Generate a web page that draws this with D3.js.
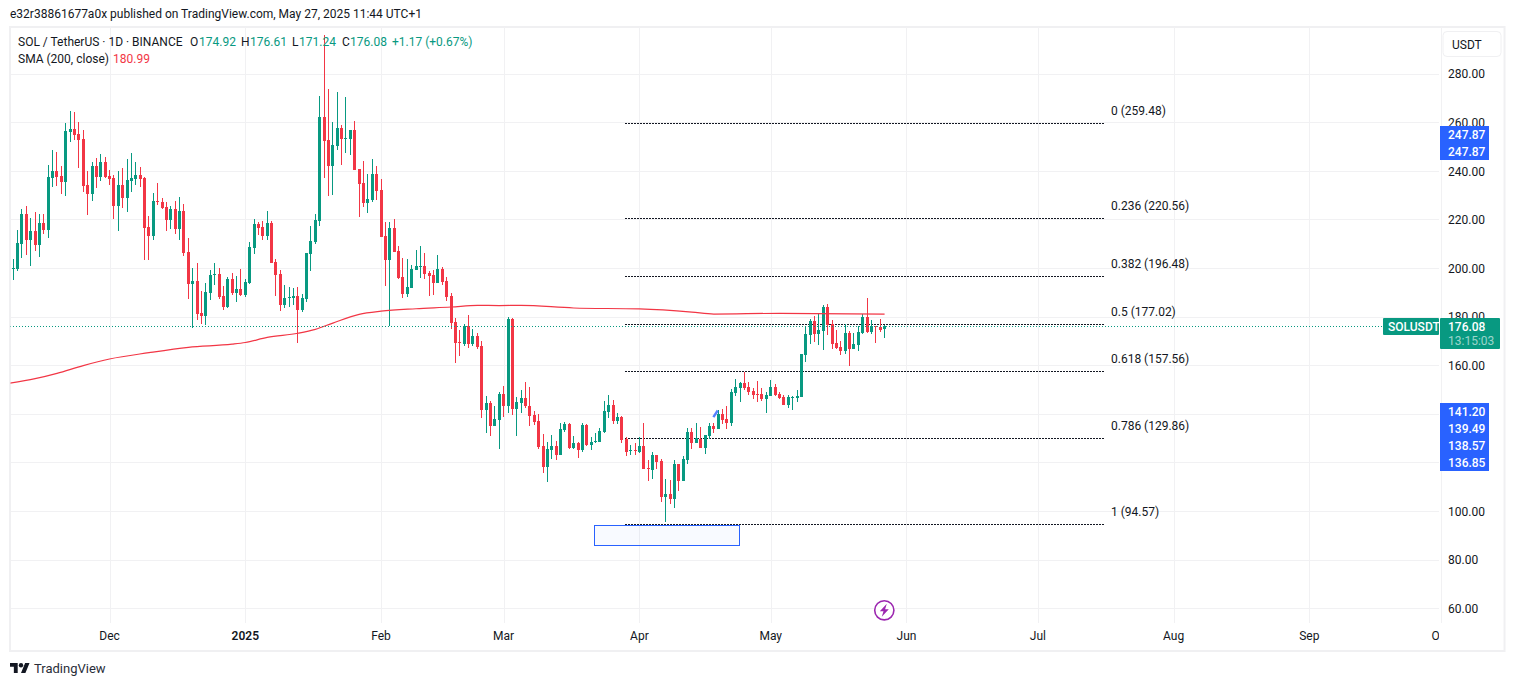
<!DOCTYPE html>
<html>
<head>
<meta charset="utf-8">
<script src="https://cdn.jsdelivr.net/npm/d3@7"></script>
<style>
  html, body { margin: 0; padding: 0; background: #fff; }
  svg { display: block; }
  text { font-family: Roboto, sans-serif; font-size: 12px; fill: #131722; }
  .grid line { stroke: #f1f1f3; }
  .grid path { display: none; }
  .axis path { display: none; }
</style>
</head>
<body>
<div id="chart"></div>
<script>
// first candle is 9 Nov 2024, one per day up to 27 May 2025
const firstDay = "2024-11-09";

const opens = [
  199.6,199.6,210.0,222.2,211.6,215.2,209.4,218.5,215.6,237.0,
  239.9,237.8,235.3,255.9,257.2,255.1,253.0,234.1,230.4,241.9,
  237.4,243.6,237.8,237.0,225.5,234.1,228.8,235.8,236.6,238.2,
  237.0,216.8,213.1,227.5,227.1,225.1,219.7,224.2,216.0,223.4,
  206.5,193.4,194.6,181.4,180.2,189.7,197.1,197.5,188.4,183.9,
  195.4,189.7,191.3,188.8,193.8,208.2,218.1,216.8,213.1,218.5,
  202.4,197.5,184.7,187.6,187.6,188.4,182.7,187.2,205.7,210.7,
  219.3,262.1,252.6,241.9,250.2,257.6,253.0,253.0,256.8,240.7,
  234.9,226.7,227.9,238.6,232.1,213.1,203.2,216.4,206.9,196.3,
  189.2,191.7,199.1,200.4,200.8,197.9,197.1,193.8,199.6,194.6,
  188.4,177.7,169.5,168.7,176.1,168.7,172.0,167.9,141.5,144.4,
  134.9,137.4,148.1,143.2,179.0,142.0,144.4,146.5,143.2,139.5,
  137.0,126.7,118.0,125.1,126.7,123.0,133.3,135.8,125.9,127.9,
  125.1,135.4,127.1,128.3,128.3,132.5,140.7,143.6,137.0,138.6,
  129.6,124.7,125.1,124.2,126.7,117.6,116.8,123.0,120.5,105.7,
  107.0,104.9,119.3,112.3,120.9,132.5,127.9,129.6,125.9,130.8,
  135.0,133.7,139.9,137.8,136.2,148.5,150.6,152.6,151.0,149.3,
  148.1,148.1,146.0,147.3,151.0,148.1,146.9,143.6,146.4,146.4,
  146.9,164.2,172.4,178.2,172.8,174.0,183.9,176.9,169.1,167.4,
  165.8,173.2,166.6,168.3,173.2,179.8,173.6,176.1,175.7,174.92
];
const highs = [
  203.7,215.6,224.2,225.5,220.5,223.0,222.2,222.2,242.3,248.5,
  247.7,241.9,259.6,264.6,264.1,260.0,256.8,239.9,243.6,245.2,
  246.9,245.6,240.3,238.2,239.9,241.1,244.8,247.3,243.6,241.5,
  237.4,221.4,230.8,234.9,228.8,227.1,225.5,227.5,229.2,226.3,
  212.3,200.0,202.0,190.5,193.8,199.1,202.0,200.0,192.6,196.3,
  197.9,196.7,199.6,195.4,210.7,220.1,218.9,219.3,223.4,219.3,
  203.7,199.1,193.0,192.1,191.7,192.1,189.2,206.1,217.2,222.2,
  270.7,295.8,273.6,260.0,272.4,258.8,270.3,256.8,260.4,240.7,
  244.0,238.6,244.8,241.9,236.6,218.9,218.9,220.1,209.0,204.1,
  203.7,201.2,207.4,209.0,206.1,198.7,199.1,205.3,200.4,196.3,
  189.7,179.4,174.4,176.9,180.6,174.9,173.2,169.9,147.3,145.2,
  143.2,148.9,151.4,179.8,179.4,146.9,149.8,153.0,151.0,141.1,
  139.9,131.7,128.3,131.2,128.8,136.2,136.6,136.2,130.8,128.3,
  136.2,135.8,130.4,132.1,134.1,145.2,147.7,145.6,140.3,139.0,
  130.4,127.1,127.9,130.4,136.2,120.9,124.2,123.0,121.4,113.1,
  112.7,120.9,119.3,122.6,134.1,134.1,136.2,134.5,131.2,136.2,
  136.2,141.5,141.9,143.2,150.2,154.3,153.1,157.2,153.1,150.6,
  153.4,150.6,148.9,153.9,152.2,148.9,147.7,147.7,147.3,149.8,
  164.6,176.1,179.0,180.2,181.4,184.7,185.1,178.6,174.5,169.9,
  176.9,174.0,173.2,176.1,181.0,187.6,178.6,176.1,179.0,176.61
];
const lows = [
  195.0,198.9,204.1,205.2,200.8,206.9,204.5,213.9,212.3,233.3,
  233.7,230.4,229.6,251.8,252.6,241.1,231.2,221.8,227.5,232.9,
  235.8,237.0,234.1,220.1,215.2,224.6,223.0,231.2,234.1,233.3,
  203.2,203.2,211.5,225.9,224.2,215.2,216.0,213.9,211.5,204.9,
  187.2,175.1,178.6,176.9,176.5,186.8,193.0,187.2,182.7,183.5,
  188.8,186.0,188.4,188.0,193.4,205.7,213.5,211.5,211.5,202.0,
  188.4,182.3,183.5,183.9,184.7,169.1,181.9,186.0,198.7,209.8,
  217.2,237.0,229.6,230.0,248.5,242.3,247.1,246.5,240.3,221.0,
  225.1,222.6,227.1,227.9,212.7,192.6,176.1,206.5,195.4,187.6,
  188.0,191.7,199.1,195.8,195.4,188.4,188.8,193.8,193.0,186.4,
  175.0,160.9,163.8,167.9,167.0,167.9,166.6,138.2,132.1,130.8,
  134.9,125.5,138.6,140.3,139.5,130.8,140.3,142.4,134.9,135.4,
  125.5,115.6,111.9,121.4,120.9,123.0,132.5,125.5,125.5,121.8,
  124.2,126.7,125.1,127.9,128.3,132.1,138.2,135.8,135.8,127.9,
  122.6,123.0,123.0,123.8,117.2,112.3,113.1,117.2,103.7,95.4,
  102.8,101.2,108.2,112.3,119.3,125.5,127.9,125.9,123.4,129.6,
  132.1,133.7,135.8,133.7,135.0,147.3,144.8,149.8,147.7,146.0,
  144.8,145.2,140.3,147.3,147.3,146.0,143.6,142.4,141.5,144.8,
  146.9,161.3,168.7,169.5,168.3,166.2,172.4,166.6,166.6,164.2,
  164.6,159.6,166.6,165.8,172.8,173.2,172.8,169.1,173.6,171.24
];
const closes = [
  200.0,210.1,222.0,211.6,215.2,209.4,218.5,215.6,237.4,239.9,
  237.4,235.3,256.3,257.2,254.7,252.6,233.7,230.4,241.9,237.4,
  243.6,237.4,236.6,225.5,234.1,228.8,236.2,237.0,238.2,236.6,
  216.4,213.1,227.5,227.1,224.6,219.7,224.2,216.0,223.4,206.1,
  193.4,194.6,181.0,180.2,190.1,197.1,197.5,188.0,183.9,195.4,
  189.7,191.3,188.8,194.2,208.6,218.1,216.4,213.1,218.5,202.0,
  197.1,184.7,187.6,188.0,188.4,182.7,187.6,206.1,211.1,219.7,
  262.1,252.2,241.9,250.6,257.6,253.0,253.5,256.8,240.3,234.5,
  226.7,228.4,238.6,231.6,212.7,203.2,216.4,206.5,195.8,189.2,
  192.1,199.6,200.8,200.8,197.5,196.7,193.8,199.6,194.2,188.0,
  177.3,169.1,169.1,176.1,168.7,172.0,167.5,141.5,144.4,134.9,
  137.8,148.1,143.2,179.0,142.0,144.8,146.5,143.2,139.0,136.6,
  126.3,118.0,125.5,126.7,123.0,133.7,135.8,125.9,127.9,125.1,
  135.4,127.1,128.3,128.8,132.9,141.1,143.6,137.0,138.6,129.2,
  124.2,125.1,124.7,126.7,117.2,117.2,123.0,120.1,105.7,107.0,
  104.9,119.3,112.3,121.4,132.5,127.9,130.0,125.9,131.2,135.0,
  133.7,139.9,137.4,136.2,148.9,151.0,152.6,150.6,148.9,147.7,
  147.7,146.0,147.7,151.0,147.7,146.4,143.6,146.9,146.9,147.3,
  164.6,172.8,178.2,172.8,174.5,183.9,176.5,168.7,167.0,165.8,
  173.2,166.6,168.7,173.6,179.8,173.6,176.1,175.7,174.5,176.08
];

// SMA readings, day number counted from the first candle
const smaDays = [-1,5,10,16,22,31,40,50,53,58,65,69,73,79,84,92,100,106,111,116,128,143,155,160,175,199];
const smaValues = [152.5,154.4,156.6,159.8,162.5,165.1,167.3,168.6,169.3,171.4,173.1,174.7,177.3,180.9,182.2,183.2,183.9,184.6,184.5,184.6,183.5,183.1,181.8,181.0,181.3,180.99];

const priceTicks = [280,260,240,220,200,180,160,140,120,100,80,60];
const monthDates = ["2024-12-01","2025-01-01","2025-02-01","2025-03-01","2025-04-01","2025-05-01","2025-06-01","2025-07-01","2025-08-01","2025-09-01","2025-10-01"];
const monthLabels = ["Dec","2025","Feb","Mar","Apr","May","Jun","Jul","Aug","Sep","Oct"];

const fibRatios = ["0","0.236","0.382","0.5","0.618","0.786","1"];
const fibPrices = [259.48,220.56,196.48,177.02,157.56,129.86,94.57];
const fibFromDay = 139.8, fibToDay = 249;

const boxDays = [133,166], boxPrices = [94.2,85.8];
const brushDays = [159.9,160.9], brushPrices = [138.6,141.3];

const lastPrice = 176.08, countdown = "13:15:03";
const topAlerts = ["247.87","247.87"];
const lowAlerts = ["141.20","139.49","138.57","136.85"];

const green = "#089981", red = "#f23645", blue = "#2962ff";
const paneRight = 1438.5, paneTop = 27, paneBottom = 622.5;

const parse = d3.utcParse("%Y-%m-%d");
const day0 = parse(firstDay);
const dayToDate = n => new Date(day0.getTime() + n * 864e5);

const svg = d3.select("#chart").append("svg")
  .attr("width", 1515)
  .attr("height", 686);

const x = d3.scaleUtc()
  .domain([day0, dayToDate(199)])
  .range([13.2, 884.6]);
const y = d3.scaleLinear()
  .domain([60, 280])
  .range([608.1, 73.5]);

const clip = svg.append("defs");
clip.append("clipPath").attr("id", "pane").append("rect")
  .attr("x", 10.5).attr("y", paneTop).attr("width", paneRight - 10.5).attr("height", paneBottom - paneTop);
clip.append("clipPath").attr("id", "timeaxis").append("rect")
  .attr("x", 10.5).attr("y", paneBottom).attr("width", paneRight - 10).attr("height", 28);

// publish line and frame
svg.append("text").attr("x", 10).attr("y", 18).text("e32r38861677a0x published on TradingView.com, May 27, 2025 11:44 UTC+1");
svg.append("rect")
  .attr("x", 10).attr("y", 27).attr("width", 1494.5).attr("height", 624)
  .attr("fill", "none").attr("stroke", "#f0f0f2").attr("stroke-width", 2);

// grid
svg.append("g").attr("class", "grid")
  .attr("transform", `translate(${paneRight}, 0)`)
  .attr("shape-rendering", "crispEdges")
  .call(d3.axisLeft(y).tickValues(priceTicks).tickSize(paneRight - 10.5).tickFormat(""));
svg.append("g").attr("class", "grid")
  .attr("transform", `translate(0, ${paneBottom})`)
  .attr("shape-rendering", "crispEdges")
  .call(d3.axisTop(x).tickValues(monthDates.map(parse)).tickSize(paneBottom - paneTop).tickFormat(""));

const pane = svg.append("g").attr("clip-path", "url(#pane)");

// fib lines
pane.append("g").selectAll("line")
  .data(fibPrices)
  .enter()
  .append("line")
    .attr("x1", Math.round(x(dayToDate(fibFromDay))))
    .attr("x2", Math.round(x(dayToDate(fibToDay))))
    .attr("y1", d => Math.round(y(d)) + 0.5)
    .attr("y2", d => Math.round(y(d)) + 0.5)
    .attr("stroke", "#131722")
    .attr("stroke-dasharray", "2 1");
pane.append("g").selectAll("text")
  .data(fibPrices)
  .enter()
  .append("text")
    .attr("x", 1111)
    .attr("y", d => y(d) - 8)
    .text((d, i) => `${fibRatios[i]} (${d.toFixed(2)})`);

// box under the low
pane.append("rect")
  .attr("x", Math.floor(x(dayToDate(boxDays[0]))) - 0.5)
  .attr("y", Math.round(y(boxPrices[0])) + 0.5)
  .attr("width", Math.round(x(dayToDate(boxDays[1])) - x(dayToDate(boxDays[0]))))
  .attr("height", Math.round(y(boxPrices[1]) - y(boxPrices[0])))
  .attr("fill", blue).attr("fill-opacity", 0.03)
  .attr("stroke", blue);

// candles
const bars = d3.range(opens.length);
const barX = i => Math.floor(x(dayToDate(i)));
const barColor = i => closes[i] >= opens[i] ? green : red;
const candles = pane.append("g").attr("shape-rendering", "crispEdges");
candles.selectAll(".wick")
  .data(bars)
  .enter()
  .append("rect")
    .attr("class", "wick")
    .attr("x", barX)
    .attr("width", 1)
    .attr("y", i => Math.round(y(highs[i])))
    .attr("height", i => Math.max(1, Math.round(y(lows[i])) - Math.round(y(highs[i]))))
    .attr("fill", barColor);
candles.selectAll(".body")
  .data(bars)
  .enter()
  .append("rect")
    .attr("class", "body")
    .attr("x", i => barX(i) - 1)
    .attr("width", 3)
    .attr("y", i => Math.round(y(Math.max(opens[i], closes[i]))))
    .attr("height", i => Math.max(1, Math.round(y(Math.min(opens[i], closes[i]))) - Math.round(y(Math.max(opens[i], closes[i])))))
    .attr("fill", barColor);

// SMA 200
const smaLine = d3.line()
  .x(i => x(dayToDate(smaDays[i])))
  .y(i => y(smaValues[i]))
  .curve(d3.curveMonotoneX);
pane.append("path")
  .attr("d", smaLine(d3.range(smaDays.length)))
  .attr("fill", "none")
  .attr("stroke", red)
  .attr("stroke-width", 1.2);

// small brush stroke
pane.append("line")
  .attr("x1", x(dayToDate(brushDays[0]))).attr("y1", y(brushPrices[0]))
  .attr("x2", x(dayToDate(brushDays[1]))).attr("y2", y(brushPrices[1]))
  .attr("stroke", blue).attr("stroke-width", 2.5).attr("stroke-opacity", 0.8);

// last price line
pane.append("line")
  .attr("x1", 10).attr("x2", paneRight)
  .attr("y1", Math.round(y(lastPrice)) + 0.5).attr("y2", Math.round(y(lastPrice)) + 0.5)
  .attr("stroke", green)
  .attr("stroke-dasharray", "1 2");

// bolt icon on the last bar
const bolt = pane.append("g")
  .attr("transform", `translate(${x(dayToDate(199)) - 0.3}, 610.3)`);
bolt.append("circle").attr("r", 9.6).attr("fill", "#fff").attr("stroke", "#9c27b0").attr("stroke-width", 1.6);
bolt.append("path").attr("d", "M2.5,-6.5 L-4.5,1 L-0.8,1 L-2.5,6.5 L4.5,-1 L0.8,-1 Z").attr("fill", "#9c27b0");

// axes
const priceAxis = svg.append("g").attr("class", "axis")
  .attr("transform", "translate(1448, 0.5)")
  .call(d3.axisRight(y).tickValues(priceTicks).tickSize(0).tickPadding(0).tickFormat(d3.format(".2f")));

const timeAxis = svg.append("g").attr("class", "axis")
  .attr("clip-path", "url(#timeaxis)")
  .append("g")
  .attr("transform", "translate(-0.5, 631)")
  .call(d3.axisBottom(x).tickValues(monthDates.map(parse)).tickSize(0).tickPadding(0)
    .tickFormat((d, i) => monthLabels[i]));
timeAxis.selectAll("text")
  .style("font-weight", (d, i) => monthLabels[i] === "2025" ? 600 : 400);

// legend
const legend = svg.append("g");
[["SOL / TetherUS · 1D · BINANCE", 18, "#131722"], ["O", 190, "#131722"], ["174.92", 199, green],
 ["H", 241, "#131722"], ["176.61", 250, green], ["L", 292, "#131722"], ["171.24", 299, green],
 ["C", 342, "#131722"], ["176.08", 350, green], ["+1.17 (+0.67%)", 392, green]]
  .forEach(d => {
    legend.append("text").attr("x", d[1]).attr("y", 46).style("fill", d[2]).text(d[0]);
  });
legend.append("text").attr("x", 18).attr("y", 63).text("SMA (200, close)");
legend.append("text").attr("x", 113).attr("y", 63).style("fill", red).text("180.99");

// currency button
svg.append("rect")
  .attr("x", 1443).attr("y", 31.5).attr("width", 58).attr("height", 25).attr("rx", 4)
  .attr("fill", "#fff").attr("stroke", "#f0f0f2");
svg.append("text").attr("x", 1452).attr("y", 49).text("USDT");

// price tags
function tagBox(values, top, color) {
  svg.append("rect").attr("x", 1440).attr("y", top).attr("width", 49).attr("height", values.length * 17).attr("fill", color);
  svg.selectAll(null)
    .data(values)
    .enter()
    .append("text")
      .attr("x", 1448)
      .attr("y", (d, i) => top + 13 + i * 17)
      .style("fill", "#fff")
      .style("font-weight", 500)
      .text(d => d);
}
tagBox(topAlerts, 126, blue);
tagBox(lowAlerts, 403, blue);

svg.append("rect").attr("x", 1383).attr("y", 318).attr("width", 56).attr("height", 17).attr("rx", 1).attr("fill", green);
svg.append("text").attr("x", 1388).attr("y", 331).style("fill", "#fff").style("font-weight", 500).text("SOLUSDT");
svg.append("rect").attr("x", 1440).attr("y", 318).attr("width", 60).attr("height", 31).attr("rx", 1).attr("fill", green);
svg.append("text").attr("x", 1448).attr("y", 331).style("fill", "#fff").style("font-weight", 500).text(lastPrice.toFixed(2));
svg.append("text").attr("x", 1448).attr("y", 345).style("fill", "#fff").style("fill-opacity", 0.6).text(countdown);

// TradingView mark
const logo = svg.append("g").attr("transform", "translate(10, 660.8) scale(0.55)");
logo.append("path").attr("d", "M14 22H7V11H0V4h14v18zM28 22h-8l7.5-18h8L28 22z").attr("fill", "#131722");
logo.append("circle").attr("cx", 20).attr("cy", 8).attr("r", 4).attr("fill", "#131722");
svg.append("text").attr("x", 34).attr("y", 673).style("font-size", "13px").style("fill", "#2a2e39").text("TradingView");
</script>
</body>
</html>
